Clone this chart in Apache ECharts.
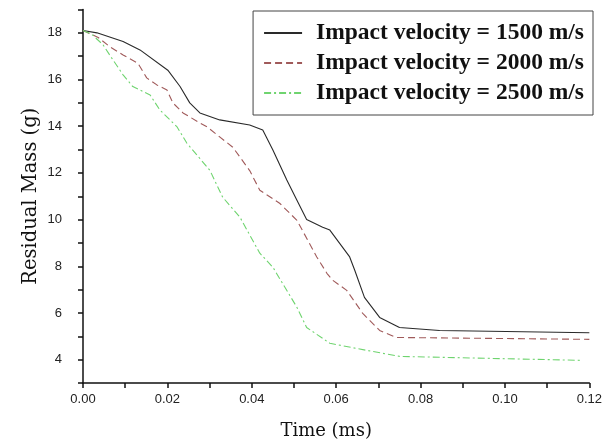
<!DOCTYPE html>
<html>
<head>
<meta charset="utf-8">
<script src="https://cdn.jsdelivr.net/npm/echarts@6/dist/echarts.min.js"></script>
<style>
  html, body { margin: 0; padding: 0; background: #fff; }
  #chart { width: 605px; height: 447px; }
</style>
</head>
<body>
<div id="chart"></div>
<script>
// time in ms, mass in g
var seriesNames = ['Impact velocity = 1500 m/s', 'Impact velocity = 2000 m/s', 'Impact velocity = 2500 m/s'];

var t1500 = [0, 0.0033, 0.0095, 0.0135, 0.0201, 0.023, 0.0253, 0.0277, 0.0324, 0.0395, 0.0426, 0.045, 0.0483, 0.0507, 0.053, 0.0568, 0.0585, 0.0632, 0.0644, 0.0667, 0.0703, 0.075, 0.0845, 0.12];
var m1500 = [18.1, 18.0, 17.63, 17.27, 16.4, 15.7, 15.0, 14.57, 14.27, 14.05, 13.84, 12.98, 11.7, 10.83, 10.0, 9.67, 9.55, 8.4, 7.83, 6.67, 5.81, 5.38, 5.25, 5.15];

var t2000 = [0, 0.0036, 0.0064, 0.0095, 0.013, 0.0151, 0.0175, 0.0199, 0.0213, 0.0237, 0.0277, 0.0294, 0.0355, 0.0395, 0.0419, 0.0466, 0.0507, 0.0554, 0.0578, 0.0592, 0.0625, 0.0663, 0.0703, 0.0743, 0.12];
var m2000 = [18.1, 17.8, 17.4, 17.05, 16.7, 16.07, 15.77, 15.55, 15.0, 14.57, 14.14, 13.97, 13.1, 12.1, 11.26, 10.7, 9.97, 8.4, 7.7, 7.4, 6.97, 5.98, 5.25, 4.95, 4.87];

var t2500 = [0, 0.002, 0.0047, 0.0071, 0.0095, 0.0118, 0.0135, 0.0159, 0.0182, 0.0223, 0.0246, 0.0301, 0.0331, 0.0372, 0.0419, 0.045, 0.0507, 0.053, 0.0585, 0.0672, 0.075, 0.118];
var m2500 = [18.1, 17.95, 17.5, 16.84, 16.2, 15.7, 15.55, 15.34, 14.7, 13.97, 13.28, 12.1, 10.96, 10.1, 8.56, 7.96, 6.24, 5.38, 4.7, 4.4, 4.14, 3.97];

function zip(xs, ys) {
    return xs.map(function (x, i) { return [x, ys[i]]; });
}

var myChart = echarts.init(document.getElementById('chart'));

var serif = 'Liberation Serif';
var nameFont = 'DejaVu Serif';
var sans = 'Liberation Sans';

var option = {
    animation: false,
    backgroundColor: '#fff',
    grid: {
        left: 83,
        right: 15,
        top: 9.5,
        bottom: 64
    },
    legend: {
        orient: 'vertical',
        right: 12,
        top: 11,
        borderColor: '#444',
        borderWidth: 1,
        borderRadius: 0,
        padding: [10, 9, 10, 10],
        itemWidth: 38,
        itemHeight: 14,
        itemGap: 6,
        itemStyle: { opacity: 0 },
        data: seriesNames,
        textStyle: {
            fontFamily: serif,
            fontWeight: 'bold',
            fontSize: 23.5,
            color: '#111',
            padding: [0, 0, 0, 9]
        }
    },
    xAxis: {
        type: 'value',
        min: 0,
        max: 0.12,
        interval: 0.01,
        name: 'Time (ms)',
        nameLocation: 'middle',
        nameGap: 39,
        nameMoveOverlap: false,
        nameTextStyle: { fontFamily: nameFont, fontSize: 18, color: '#111', padding: [0, 20, 0, 0] },
        splitLine: { show: false },
        axisLine: { lineStyle: { color: '#111', width: 1.5 } },
        axisTick: { inside: false, length: 5, lineStyle: { color: '#111', width: 1.5 } },
        axisLabel: {
            margin: 10,
            fontFamily: sans,
            fontSize: 13,
            color: '#222',
            formatter: function (v) {
                return Math.round(v * 100) % 2 === 0 ? v.toFixed(2) : '';
            }
        }
    },
    yAxis: {
        type: 'value',
        min: 3,
        max: 19,
        interval: 1,
        name: 'Residual Mass (g)',
        nameLocation: 'middle',
        nameGap: 42,
        nameMoveOverlap: false,
        nameTextStyle: { fontFamily: nameFont, fontSize: 19.5, color: '#111' },
        splitLine: { show: false },
        axisLine: { show: true, lineStyle: { color: '#111', width: 1.5 } },
        axisTick: { show: true, inside: false, length: 5, lineStyle: { color: '#111', width: 1.5 } },
        axisLabel: {
            margin: 21,
            fontFamily: sans,
            fontSize: 13,
            color: '#222',
            formatter: function (v) {
                return Math.round(v) % 2 === 0 ? String(v) : '';
            }
        }
    },
    series: [
        {
            name: seriesNames[0],
            type: 'line',
            showSymbol: false,
            symbol: 'none',
            data: zip(t1500, m1500),
            lineStyle: { color: '#2a2a2a', width: 1.1, type: 'solid' },
            itemStyle: { color: '#2a2a2a' }
        },
        {
            name: seriesNames[1],
            type: 'line',
            showSymbol: false,
            symbol: 'none',
            data: zip(t2000, m2000),
            lineStyle: { color: '#a05a5a', width: 1.1, type: [7, 4] },
            itemStyle: { color: '#a05a5a' }
        },
        {
            name: seriesNames[2],
            type: 'line',
            showSymbol: false,
            symbol: 'none',
            data: zip(t2500, m2500),
            lineStyle: { color: '#6fd46f', width: 1.1, type: [7, 3, 2, 3] },
            itemStyle: { color: '#6fd46f' }
        }
    ]
};

myChart.setOption(option);
window.addEventListener('resize', function () {
    myChart.resize();
});
</script>
</body>
</html>
